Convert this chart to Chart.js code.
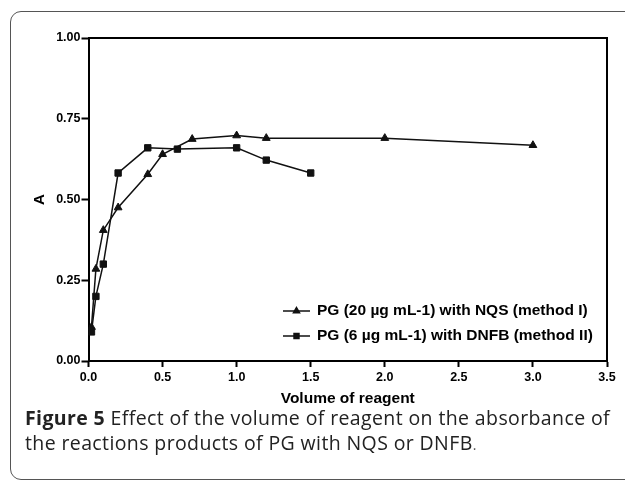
<!DOCTYPE html>
<html><head><meta charset="utf-8">
<script src="https://cdn.jsdelivr.net/npm/chart.js@4/dist/chart.umd.min.js"></script>
<style>
html,body{margin:0;padding:0;background:#fff;}
body{width:625px;height:480px;position:relative;overflow:hidden;}
#frame{position:absolute;left:10px;top:11px;width:660px;height:467px;border:1.5px solid #555;border-radius:11px;}
#c{position:absolute;left:0;top:0;}
#cap{position:absolute;left:25px;top:405px;font-family:'Open Sans';font-size:19.5px;line-height:25px;color:#222;white-space:nowrap;}
#cap span{font-size:14px;color:#555;}
</style></head><body>
<div id="frame"></div>
<canvas id="c" width="625" height="480"></canvas>
<div id="cap"><div id="l1"><b>Figure 5</b> Effect of the volume of reagent on the absorbance of</div><div id="l2">the reactions products of PG with NQS or DNFB<span>.</span></div></div>
<script>
const seriesLabels = ['PG (20 µg mL-1) with NQS (method I)', 'PG (6 µg mL-1) with DNFB (method II)'];
const nqsX = [0.02, 0.05, 0.1, 0.2, 0.4, 0.5, 0.7, 1.0, 1.2, 2.0, 3.0];
const nqsY = [0.105, 0.285, 0.405, 0.475, 0.578, 0.640, 0.687, 0.698, 0.690, 0.690, 0.668];
const dnfbX = [0.02, 0.05, 0.1, 0.2, 0.4, 0.6, 1.0, 1.2, 1.5];
const dnfbY = [0.090, 0.200, 0.300, 0.582, 0.660, 0.656, 0.660, 0.622, 0.582];
const xTicks = [0, 0.5, 1.0, 1.5, 2.0, 2.5, 3.0, 3.5];
const yTicks = [0, 0.25, 0.5, 0.75, 1.0];
const xTitle = 'Volume of reagent';
const yTitle = 'A';

// stretch caption lines to the reference width
(function () {
  const target = 585;
  const l1 = document.getElementById('l1');
  const r = document.createRange(); r.selectNodeContents(l1);
  const w = r.getBoundingClientRect().width;
  const n = l1.textContent.length;
  document.getElementById('cap').style.letterSpacing = ((target - w) / n) + 'px';
})();

Chart.defaults.font.family = "'Liberation Sans', Arial, sans-serif";
Chart.defaults.color = '#000';

const framePlugin = {
  id: 'frameAndLegend',
  afterDraw(chart) {
    const ctx = chart.ctx, a = chart.chartArea;
    ctx.save();
    ctx.strokeStyle = '#000';
    ctx.lineWidth = 2;
    ctx.beginPath();
    ctx.moveTo(a.left, a.top); ctx.lineTo(a.right, a.top); ctx.lineTo(a.right, a.bottom);
    ctx.stroke();
    // legend
    const lx = a.right - 324, rows = [a.bottom - 50, a.bottom - 25];
    chart.data.datasets.forEach((ds, i) => {
      const y = rows[i];
      ctx.strokeStyle = '#111'; ctx.lineWidth = 1.5;
      ctx.beginPath(); ctx.moveTo(lx, y); ctx.lineTo(lx + 27, y); ctx.stroke();
      ctx.fillStyle = '#111';
      Chart.helpers.drawPoint(ctx, {pointStyle: ds.pointStyle, radius: 3.5, rotation: 0, borderWidth: 1}, lx + 13.5, y);
      ctx.font = "bold 15.5px 'Liberation Sans', Arial, sans-serif";
      ctx.textBaseline = 'middle'; ctx.textAlign = 'left';
      ctx.fillStyle = '#000';
      ctx.fillText(ds.label, lx + 34, y);
    });
    ctx.restore();
  }
};

new Chart(document.getElementById('c'), {
  type: 'scatter',
  data: {
    datasets: [
      {label: seriesLabels[0], data: nqsX.map((x, i) => ({x, y: nqsY[i]})), showLine: true,
       borderColor: '#111', backgroundColor: '#111', borderWidth: 1.5, pointStyle: 'triangle', pointRadius: 4.5, pointBorderWidth: 1},
      {label: seriesLabels[1], data: dnfbX.map((x, i) => ({x, y: dnfbY[i]})), showLine: true,
       borderColor: '#111', backgroundColor: '#111', borderWidth: 1.5, pointStyle: 'rect', pointRadius: 4.5, pointBorderWidth: 1}
    ]
  },
  options: {
    responsive: false, animation: false, events: [],
    layout: {padding: {left: 28.5, right: 18, top: 38, bottom: 69}},
    plugins: {legend: {display: false}, tooltip: {enabled: false}},
    scales: {
      x: {
        type: 'linear', min: xTicks[0], max: xTicks[xTicks.length - 1],
        afterBuildTicks(s) { s.ticks = xTicks.map(v => ({value: v})); },
        afterFit(s) { s.height = 50; },
        ticks: {callback: v => v.toFixed(1), font: {size: 12.5, weight: 'bold'}, color: '#000', padding: 3, maxRotation: 0},
        grid: {drawOnChartArea: false, tickLength: 6, color: '#000', tickWidth: 2},
        border: {color: '#000', width: 2},
        title: {display: true, text: xTitle, font: {size: 15.5, weight: 'bold'}, color: '#000', padding: {top: 0, bottom: 3}}
      },
      y: {
        type: 'linear', min: yTicks[0], max: yTicks[yTicks.length - 1],
        afterBuildTicks(s) { s.ticks = yTicks.map(v => ({value: v})); },
        afterFit(s) { s.width = 60; },
        ticks: {callback: v => v.toFixed(2), font: {size: 12.5, weight: 'bold'}, color: '#000', padding: 1},
        grid: {drawOnChartArea: false, tickLength: 7, color: '#000', tickWidth: 2},
        border: {color: '#000', width: 2},
        title: {display: true, text: yTitle, font: {size: 15, weight: 'bold'}, color: '#000', padding: {top: 2, bottom: 0}}
      }
    }
  },
  plugins: [framePlugin]
});
</script>
</body></html>
